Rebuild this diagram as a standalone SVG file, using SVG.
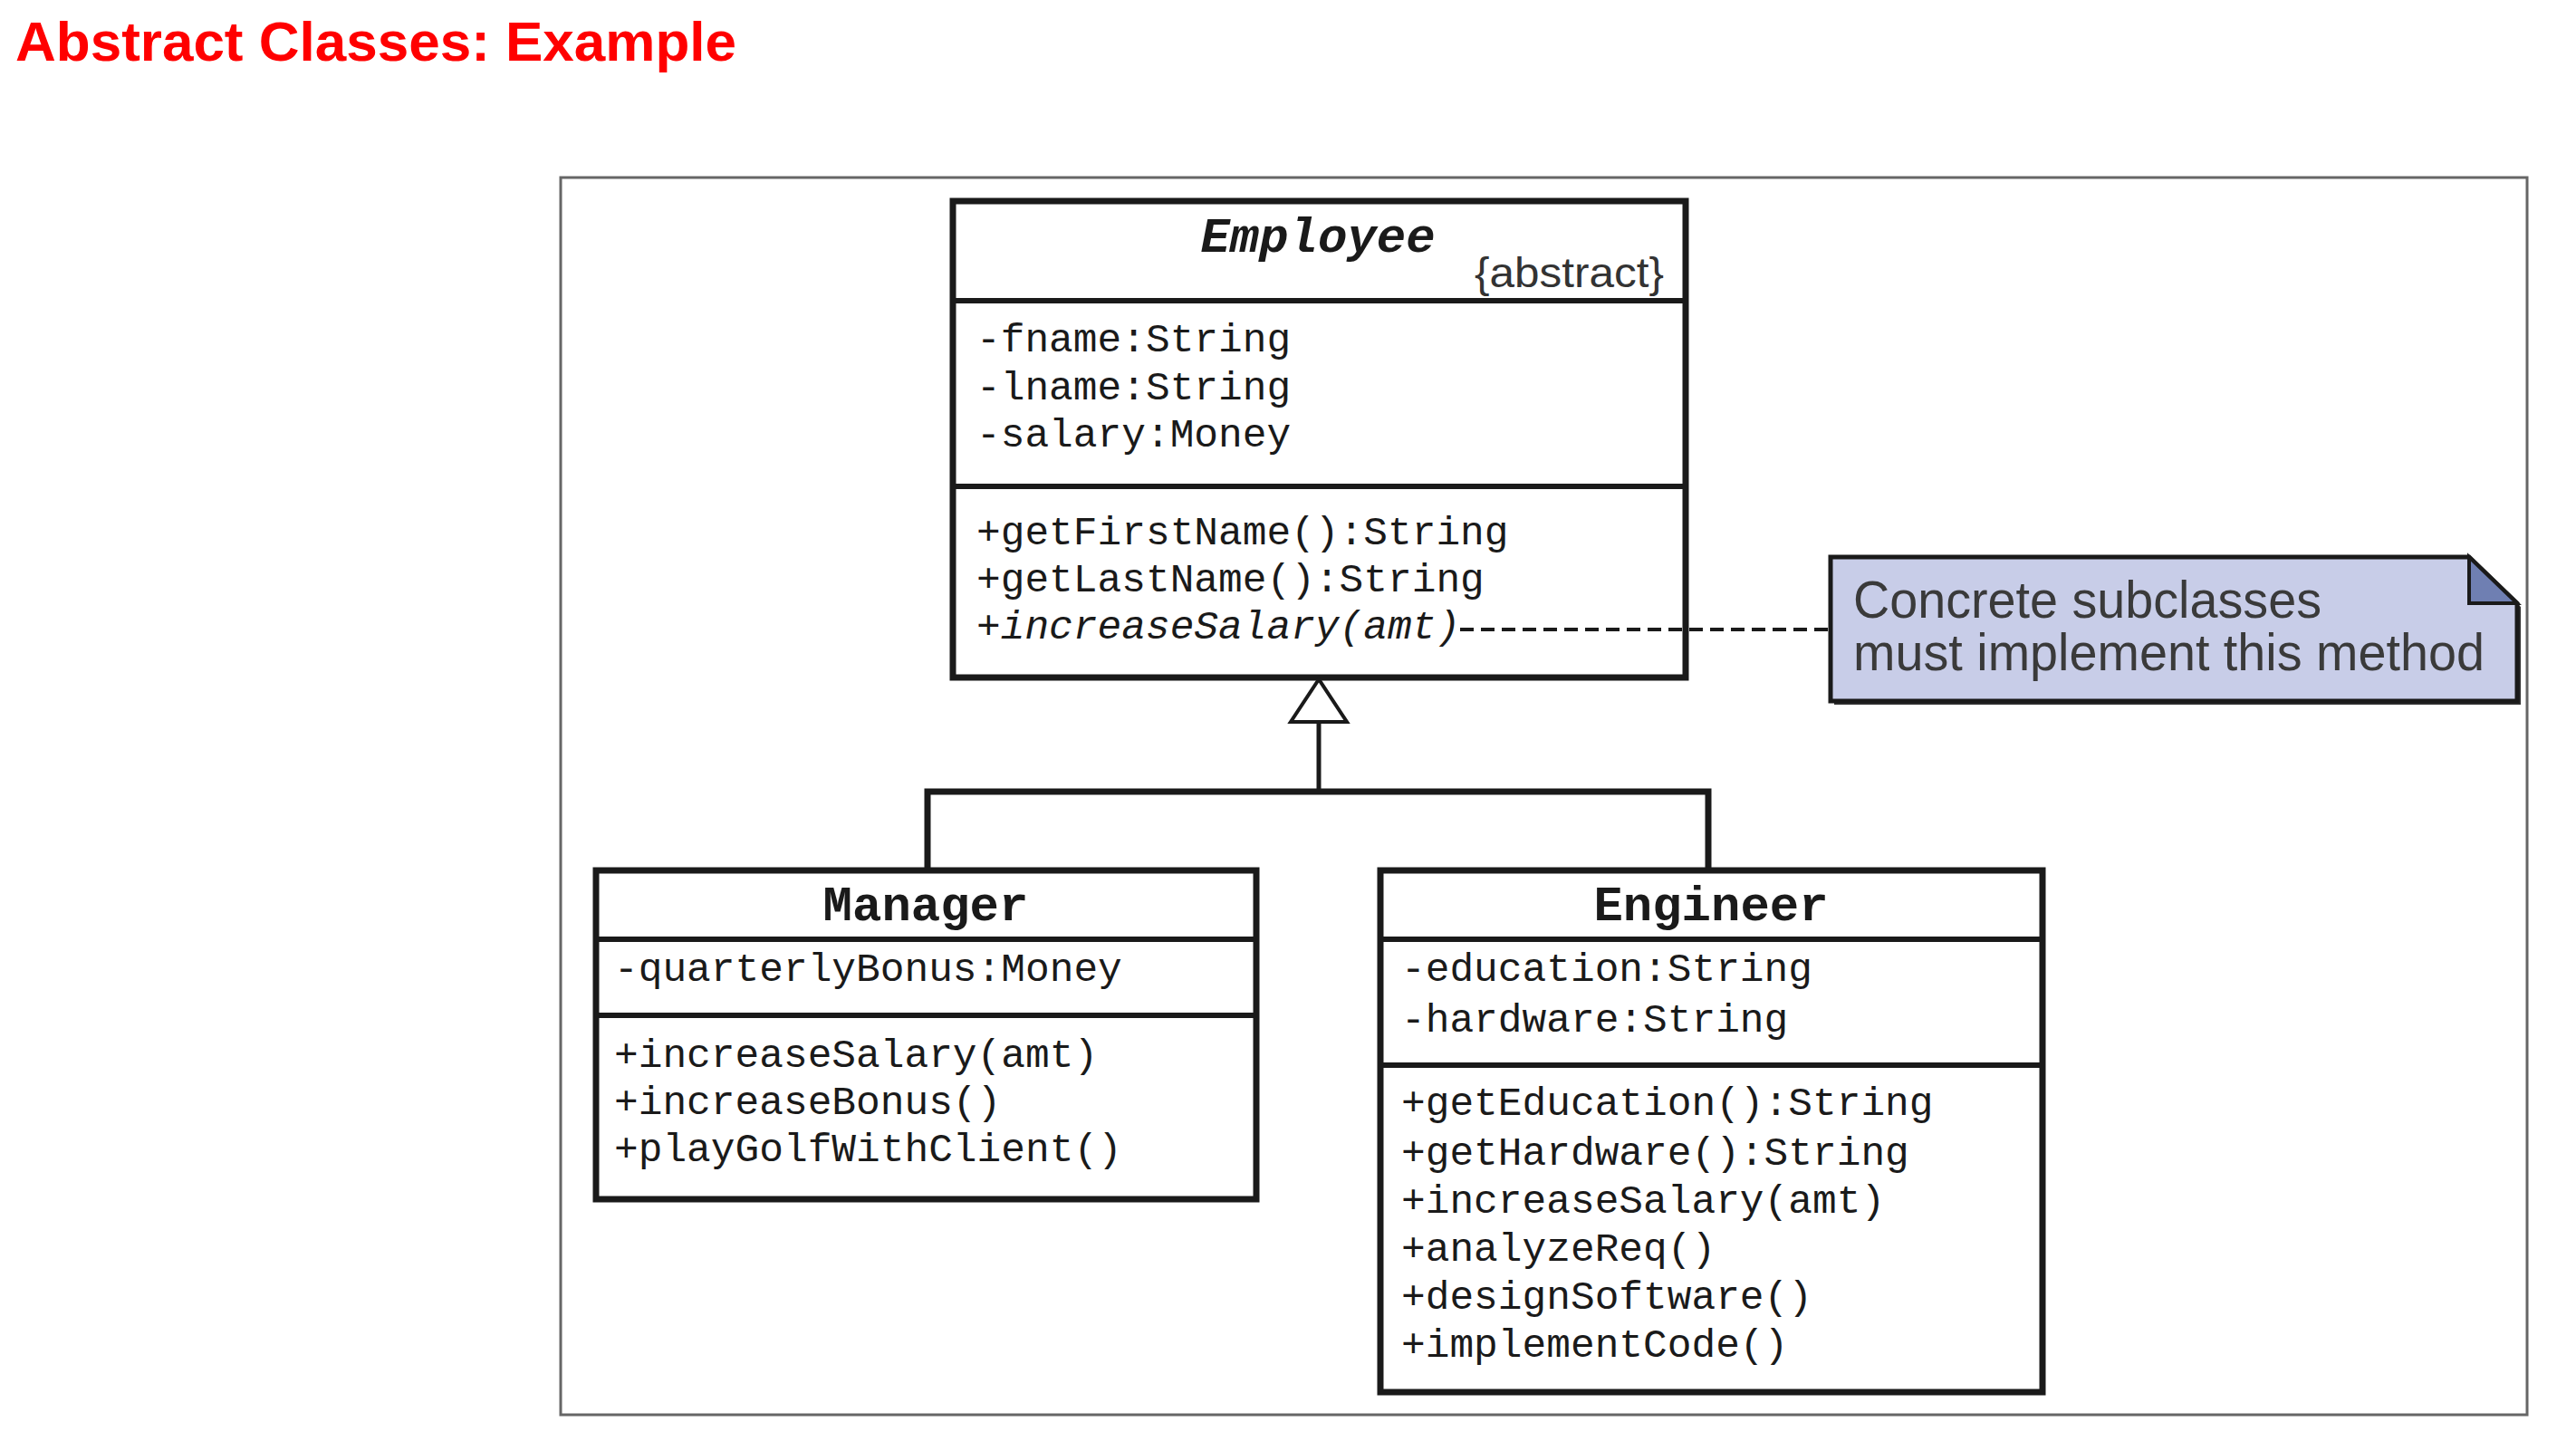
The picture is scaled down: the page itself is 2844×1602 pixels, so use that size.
<svg xmlns="http://www.w3.org/2000/svg" width="2844" height="1602" viewBox="0 0 2844 1602">
  <style>
    .title { font-family: "Liberation Sans", Arial, sans-serif; font-weight: bold; font-size: 62px; fill: #ff0000; }
    .box { fill: #ffffff; stroke: #1a1a1a; stroke-width: 7; }
    .sep { stroke: #1a1a1a; stroke-width: 6; }
    .cname { font-family: "Liberation Mono", "Courier New", monospace; font-weight: bold; font-size: 54px; fill: #1a1a1a; text-anchor: middle; }
    .member { font-family: "Liberation Mono", "Courier New", monospace; font-size: 44.5px; fill: #1a1a1a; }
    .abs { font-family: "Liberation Sans", Arial, sans-serif; font-size: 46px; fill: #333333; }
    .notetext { font-family: "Liberation Sans", Arial, sans-serif; font-size: 57px; fill: #3a3a3a; }
    .link { fill: none; stroke: #1a1a1a; stroke-width: 7; }
  </style>

  <rect width="2844" height="1602" fill="#ffffff"/>

  <!-- slide heading -->
  <text class="title" x="17" y="67">Abstract Classes: Example</text>

  <!-- figure frame -->
  <rect x="619" y="196" width="2171" height="1366" fill="none" stroke="#666666" stroke-width="3"/>

  <!-- abstract base class -->
  <g id="employee">
    <rect class="box" x="1052" y="222" width="809" height="526"/>
    <line class="sep" x1="1052" y1="332" x2="1861" y2="332"/>
    <line class="sep" x1="1052" y1="537" x2="1861" y2="537"/>
    <text class="cname" x="1455" y="278" font-style="italic">Employee</text>
    <text class="abs" x="1837" y="317" text-anchor="end" textLength="209" lengthAdjust="spacingAndGlyphs">{abstract}</text>
    <text class="member" x="1078" y="388">-fname:String</text>
    <text class="member" x="1078" y="441">-lname:String</text>
    <text class="member" x="1078" y="493">-salary:Money</text>
    <text class="member" x="1078" y="601">+getFirstName():String</text>
    <text class="member" x="1078" y="653">+getLastName():String</text>
    <text class="member" x="1078" y="705" font-style="italic">+increaseSalary(amt)</text>
  </g>

  <!-- comment note -->
  <g id="note">
    <polygon points="2025,619 2730,619 2783,670 2783,778 2025,778" fill="#333333"/>
    <polygon points="2021,615 2726,615 2779,666 2779,774 2021,774" fill="#c8cde8" stroke="#1a1a1a" stroke-width="5" stroke-linejoin="miter"/>
    <polygon points="2726,615 2726,666 2779,666" fill="#6f7fb2" stroke="#1a1a1a" stroke-width="4"/>
    <text class="notetext" x="2046" y="682" textLength="517" lengthAdjust="spacingAndGlyphs">Concrete subclasses</text>
    <text class="notetext" x="2046" y="740" textLength="697" lengthAdjust="spacingAndGlyphs">must implement this method</text>
  </g>

  <!-- subclass: Manager -->
  <g id="manager">
    <rect class="box" x="658" y="961" width="729" height="363"/>
    <line class="sep" x1="658" y1="1037" x2="1387" y2="1037"/>
    <line class="sep" x1="658" y1="1121" x2="1387" y2="1121"/>
    <text class="cname" x="1022" y="1016">Manager</text>
    <text class="member" x="678" y="1083">-quarterlyBonus:Money</text>
    <text class="member" x="678" y="1178">+increaseSalary(amt)</text>
    <text class="member" x="678" y="1230">+increaseBonus()</text>
    <text class="member" x="678" y="1282">+playGolfWithClient()</text>
  </g>

  <!-- subclass: Engineer -->
  <g id="engineer">
    <rect class="box" x="1524" y="961" width="731" height="576"/>
    <line class="sep" x1="1524" y1="1037" x2="2255" y2="1037"/>
    <line class="sep" x1="1524" y1="1176" x2="2255" y2="1176"/>
    <text class="cname" x="1889" y="1016">Engineer</text>
    <text class="member" x="1547" y="1083">-education:String</text>
    <text class="member" x="1547" y="1139">-hardware:String</text>
    <text class="member" x="1547" y="1231">+getEducation():String</text>
    <text class="member" x="1547" y="1286">+getHardware():String</text>
    <text class="member" x="1547" y="1339">+increaseSalary(amt)</text>
    <text class="member" x="1547" y="1392">+analyzeReq()</text>
    <text class="member" x="1547" y="1445">+designSoftware()</text>
    <text class="member" x="1547" y="1498">+implementCode()</text>
  </g>

  <!-- generalization and note connectors, drawn over the boxes -->
  <g id="connectors">
    <line x1="1612" y1="695" x2="2021" y2="695" stroke="#1a1a1a" stroke-width="4" stroke-dasharray="15 8"/>
    <line x1="1456" y1="797" x2="1456" y2="874" stroke="#1a1a1a" stroke-width="5"/>
    <polyline class="link" points="1024,961 1024,874 1886,874 1886,961"/>
    <polygon points="1456,750 1425,797 1487,797" fill="#ffffff" stroke="#1a1a1a" stroke-width="4" stroke-linejoin="miter"/>
  </g>
</svg>
